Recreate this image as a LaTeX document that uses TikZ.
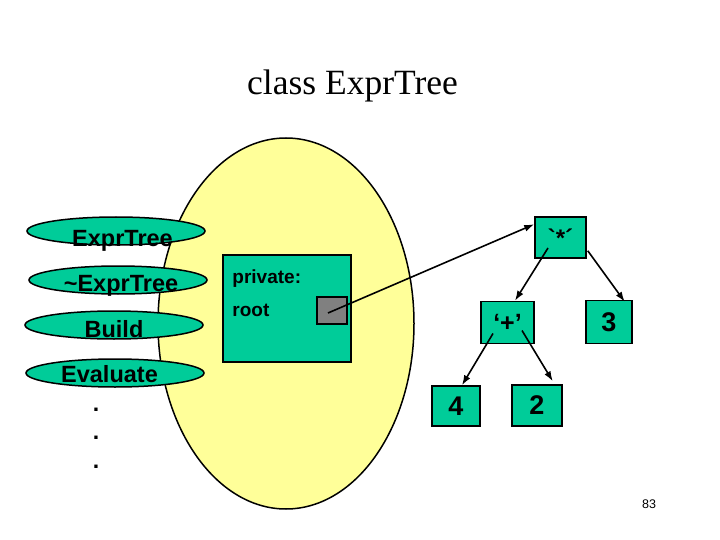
\documentclass[tikz,border=0pt]{standalone}
\usepackage{fontspec}
\setmainfont{Liberation Serif}
\setsansfont{Liberation Sans}[Ligatures=TeXOff]
\usepackage{xcolor}
\usetikzlibrary{arrows.meta,positioning,shapes.geometric}

\definecolor{memgreen}{RGB}{0,204,153}
\definecolor{classyellow}{RGB}{255,255,153}
\definecolor{ptrgray}{RGB}{128,128,128}

\begin{document}
\begin{tikzpicture}[
  x=1pt, y=-1pt,
  method/.style={draw, line width=1.5pt, fill=memgreen, ellipse,
    minimum width=178pt, minimum height=28pt, inner sep=0pt},
  mlabel/.style={anchor=base, inner sep=0pt,
    font=\sffamily\bfseries\fontsize{23.5}{23.5}\selectfont},
  field/.style={anchor=base west, inner sep=0pt,
    font=\sffamily\bfseries\fontsize{19}{19}\selectfont},
  tnode/.style={draw, line width=1.5pt, fill=memgreen, inner sep=0pt,
    minimum width=50pt, minimum height=41pt,
    font=\sffamily\bfseries\fontsize{27}{27}\selectfont},
  arr/.style={-{Latex[length=10pt,width=7pt]}, line width=1.6pt},
]
\useasboundingbox (0,0) rectangle (720,540);

% title
\node[anchor=base, font=\fontsize{35.5}{35.5}\selectfont] (title)
  at (352.5,95) {class ExprTree};

% the class object
\node[draw, line width=1.5pt, fill=classyellow, ellipse, inner sep=0pt,
  minimum width=256pt, minimum height=371pt] (obj) at (286,323.5) {};

% public methods
\node[method] (ctor) at (116,231) {};
\node[method] (dtor) at (118,280) {};
\node[method] (build) at (114,325) {};
\node[method] (eval) at (115,373) {};
\node[mlabel] (ctortxt) at ([xshift=6.5pt, yshift=-15pt]ctor.center) {ExprTree};
\node[mlabel] (dtortxt) at ([xshift=3pt, yshift=-11pt]dtor.center) {\char`\~ExprTree};
\node[mlabel] (buildtxt) at ([yshift=-12pt]build.center) {Build};
\node[mlabel] (evaltxt) at ([xshift=-5.5pt, yshift=-9pt]eval.center) {Evaluate};
\node[align=center, inner sep=0pt,
  font=\sffamily\bfseries\fontsize{23}{28.5}\selectfont] (dots)
  at (96,438) {.\\.\\.};

% private part
\node[draw, line width=1.5pt, fill=memgreen, inner sep=0pt,
  minimum width=128pt, minimum height=107pt] (priv) at (287,308.5) {};
\node[field] (privtxt) at ([xshift=10pt, yshift=-29pt]priv.north west) {private:};
\node[field] (roottxt) at ([xshift=10pt, yshift=-62pt]priv.north west) {root};
\node[draw, line width=1.5pt, fill=ptrgray, inner sep=0pt,
  minimum width=30pt, minimum height=27pt] (rootptr) at (332,310.5) {};

% the expression tree
\node[tnode, minimum width=51pt, font=\sffamily\bfseries\fontsize{24}{24}\selectfont]
  (star) at (560.5,237.5) {\symbol{"60}*\symbol{"B4}};
\node[tnode, minimum width=53pt, minimum height=42pt,
  font=\sffamily\bfseries\fontsize{25}{25}\selectfont,
  below=42pt of star, xshift=-53pt] (plus) {‘+’};
\node[tnode, minimum width=46pt, minimum height=43pt,
  below=41pt of star, xshift=48.5pt] (three) {3};
\node[tnode, minimum width=48pt, minimum height=40pt,
  below=41pt of plus, xshift=-51.5pt] (four) {4};
\node[tnode, below=40pt of plus, xshift=29.5pt] (two) {2};

\draw[arr] ([xshift=-4pt, yshift=-2.5pt]rootptr.center)
  -- ([yshift=-8pt]star.north west);
\draw[arr] ([xshift=-12.5pt, yshift=-10.5pt]star.center)
  -- ([xshift=7.5pt]plus.north);
\draw[arr] ([xshift=1pt, yshift=8pt]star.south east)
  -- ([xshift=-8pt, yshift=-2pt]three.north east);
\draw[arr] ([xshift=-14.5pt, yshift=-11pt]plus.center)
  -- ([xshift=6pt]four.north);
\draw[arr] ([xshift=14.5pt, yshift=-8pt]plus.center)
  -- ([xshift=-10pt, yshift=3pt]two.north east);

% page number
\node[font=\sffamily\fontsize{12.5}{12.5}\selectfont, inner sep=0pt] (page)
  at (649,504.5) {83};
\end{tikzpicture}
\end{document}
